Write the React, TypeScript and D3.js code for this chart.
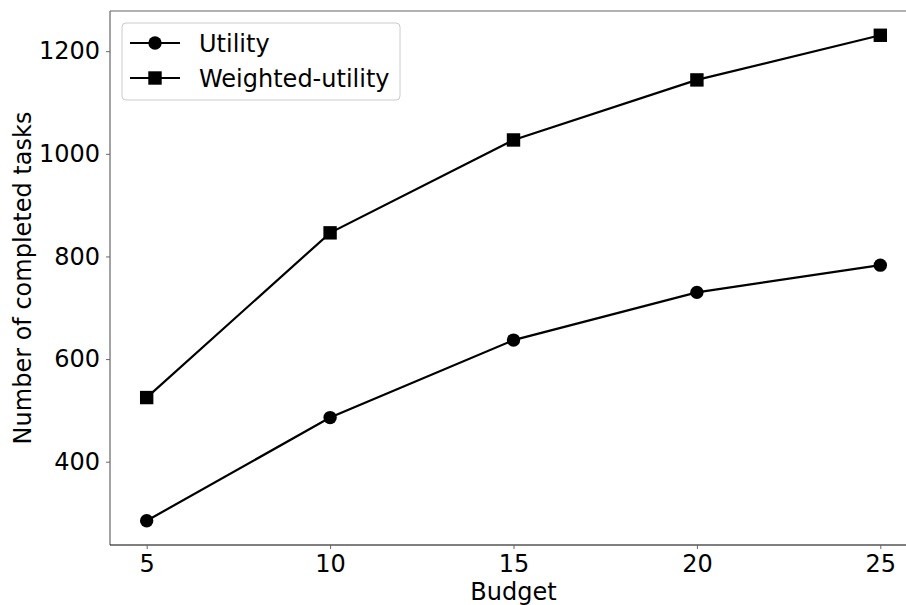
import * as d3 from "d3"
import { useEffect, useRef } from "react"

const budgets = [5, 10, 15, 20, 25]
const utility = [285, 486, 637, 730, 783]
const weightedUtility = [525, 846, 1027, 1144, 1231]
const xTicks = [5, 10, 15, 20, 25]
const yTicks = [400, 600, 800, 1000, 1200]

const W = 906
const H = 605

const App = () => {
  const ref = useRef<SVGSVGElement>(null)

  useEffect(() => {
    const svg = d3.select(ref.current)
    svg.selectAll("*").remove()

    const margin = { top: 11, right: -11, bottom: 60, left: 110 }
    const x = d3.scaleLinear().domain([4, 26]).range([margin.left, W - margin.right])
    const y = d3.scaleLinear().domain([237.7, 1278.3]).range([H - margin.bottom, margin.top])
    const font = "DejaVu Sans, sans-serif"
    const fs = 24

    // spines
    svg.append("line").attr("x1", margin.left).attr("x2", margin.left)
      .attr("y1", margin.top).attr("y2", H - margin.bottom)
      .attr("stroke", "#666").attr("stroke-width", 1.2)
    svg.append("line").attr("x1", margin.left).attr("x2", W)
      .attr("y1", margin.top).attr("y2", margin.top)
      .attr("stroke", "#666").attr("stroke-width", 1.2)
    svg.append("line").attr("x1", margin.left).attr("x2", W)
      .attr("y1", H - margin.bottom).attr("y2", H - margin.bottom)
      .attr("stroke", "#000").attr("stroke-width", 1.2)

    const xAxis = svg.append("g")
      .attr("transform", `translate(0,${H - margin.bottom})`)
      .call(d3.axisBottom(x).tickValues(xTicks).tickSize(4).tickPadding(6).tickFormat(d3.format("d")))
    xAxis.select(".domain").remove()
    xAxis.selectAll("line").attr("stroke", "#666")
    xAxis.selectAll("text").attr("font-family", font).attr("font-size", fs).attr("fill", "#000")

    const yAxis = svg.append("g")
      .attr("transform", `translate(${margin.left},0)`)
      .call(d3.axisLeft(y).tickValues(yTicks).tickSize(4).tickPadding(6).tickFormat(d3.format("d")))
    yAxis.select(".domain").remove()
    yAxis.selectAll("line").attr("stroke", "#666")
    yAxis.selectAll("text").attr("font-family", font).attr("font-size", fs).attr("fill", "#000")

    svg.append("text").attr("x", (margin.left + W - margin.right) / 2).attr("y", 600)
      .attr("text-anchor", "middle").attr("font-family", font).attr("font-size", fs)
      .text("Budget")
    svg.append("text")
      .attr("transform", `translate(31,${(margin.top + H - margin.bottom) / 2}) rotate(-90)`)
      .attr("text-anchor", "middle").attr("font-family", font).attr("font-size", fs)
      .text("Number of completed tasks")

    const line = d3.line<number>().x((_, i) => x(budgets[i])).y((d) => y(d))

    svg.append("path").datum(utility).attr("fill", "none").attr("stroke", "#000")
      .attr("stroke-width", 2.2).attr("d", line)
    svg.append("path").datum(weightedUtility).attr("fill", "none").attr("stroke", "#000")
      .attr("stroke-width", 2.2).attr("d", line)

    svg.selectAll("circle.u").data(utility).enter().append("circle")
      .attr("cx", (_, i) => x(budgets[i])).attr("cy", (d) => y(d)).attr("r", 6.7).attr("fill", "#000")
    svg.selectAll("rect.w").data(weightedUtility).enter().append("rect")
      .attr("x", (_, i) => x(budgets[i]) - 6.7).attr("y", (d) => y(d) - 6.7)
      .attr("width", 13.4).attr("height", 13.4).attr("fill", "#000")

    // legend
    const lg = svg.append("g").attr("transform", "translate(122,23)")
    lg.append("rect").attr("width", 278).attr("height", 77).attr("rx", 4)
      .attr("fill", "#fff").attr("fill-opacity", 0.8).attr("stroke", "#ccc")
    const items = [
      { label: "Utility", shape: "circle" },
      { label: "Weighted-utility", shape: "square" },
    ]
    items.forEach((it, i) => {
      const cy = 20 + i * 35
      lg.append("line").attr("x1", 8).attr("x2", 58).attr("y1", cy).attr("y2", cy)
        .attr("stroke", "#000").attr("stroke-width", 2.2)
      if (it.shape === "circle") {
        lg.append("circle").attr("cx", 33).attr("cy", cy).attr("r", 6.7).attr("fill", "#000")
      } else {
        lg.append("rect").attr("x", 26.3).attr("y", cy - 6.7).attr("width", 13.4).attr("height", 13.4).attr("fill", "#000")
      }
      lg.append("text").attr("x", 77).attr("y", cy + 8.5).attr("font-family", font)
        .attr("font-size", fs).text(it.label)
    })
  }, [])

  return (
    <svg ref={ref} width={W} height={H}
      style={{ position: "absolute", left: 0, top: 0, background: "#fff" }} />
  )
}

export default App
